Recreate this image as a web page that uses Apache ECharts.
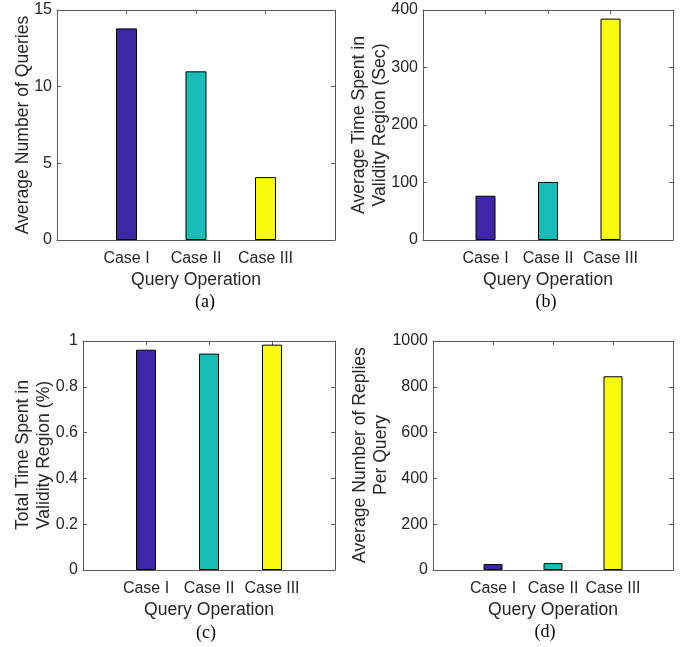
<!DOCTYPE html>
<html>
<head>
<meta charset="utf-8">
<script src="https://cdn.jsdelivr.net/npm/echarts@6/dist/echarts.min.js"></script>
<style>html,body{margin:0;padding:0;background:#fff}#c{width:684px;height:647px}</style>
</head>
<body>
<div id="c"></div>
<script>
const categories = ['Case I', 'Case II', 'Case III'];
const barColors = ['#3E26A8', '#17BEB7', '#F9FB0E'];

const avgQueries = [13.8, 11.0, 4.1];
const avgTimeValidity = [77, 101, 385];
const totalTimeValidity = [0.962, 0.945, 0.984];
const avgReplies = [26, 30, 846];

const yTitles = [
  'Average Number of Queries',
  'Average Time Spent in\nValidity Region (Sec)',
  'Total Time Spent in\nValidity Region (%)',
  'Average Number of Replies\nPer Query'
];
const xTitle = 'Query Operation';
const captions = ['(a)', '(b)', '(c)', '(d)'];
const yMin = [0, 0, 0, 0];
const yMax = [15, 400, 1, 1000];
const yStep = [5, 100, 0.2, 200];

const panels = [
  {data: avgQueries, grid: {left: 57, right: 349, top: 10, bottom: 407}, barW: 21, yName: [23, 125], cap: [205, 302]},
  {data: avgTimeValidity, grid: {left: 423, right: 11, top: 10, bottom: 407}, barW: 20, yName: [370, 125], cap: [546, 302]},
  {data: totalTimeValidity, grid: {left: 83, right: 349, top: 341, bottom: 77}, barW: 20, yName: [34, 455], cap: [206, 633]},
  {data: avgReplies, grid: {left: 433, right: 11, top: 341, bottom: 77}, barW: 19, yName: [371, 455], cap: [545, 632]}
];

const FONT = "'Liberation Sans', Arial, Helvetica, sans-serif";
const TXT = '#262626';
const LINE = '#5a5a5a';
const axisCats = [''].concat(categories, ['']);

const grid = [], xAxis = [], yAxis = [], series = [], graphic = [];
panels.forEach((p, i) => {
  grid.push(Object.assign({containLabel: false}, p.grid));
  const common = {
    type: 'category', gridIndex: i, data: axisCats, boundaryGap: false,
    axisLine: {onZero: false, lineStyle: {color: LINE, width: 1}},
    axisTick: {inside: true, length: 4, lineStyle: {color: LINE}},
    splitLine: {show: false}
  };
  xAxis.push(Object.assign({}, common, {
    position: 'bottom',
    axisLabel: {color: TXT, fontSize: 16, fontFamily: FONT, margin: 11, interval: 0},
    name: xTitle, nameLocation: 'middle', nameGap: 31,
    nameTextStyle: {color: TXT, fontSize: 17.6, fontFamily: FONT}
  }));
  xAxis.push(Object.assign({}, common, {position: 'top', axisLabel: {show: false}}));
  const yc = {
    type: 'value', gridIndex: i, min: yMin[i], max: yMax[i], interval: yStep[i],
    axisLine: {show: true, onZero: false, lineStyle: {color: LINE, width: 1}},
    axisTick: {show: true, inside: true, length: 4, lineStyle: {color: LINE}},
    splitLine: {show: false}
  };
  yAxis.push(Object.assign({}, yc, {
    position: 'left',
    axisLabel: {color: TXT, fontSize: 16, fontFamily: FONT, margin: 5, formatter: v => String(v)}
  }));
  yAxis.push(Object.assign({}, yc, {position: 'right', axisLabel: {show: false}}));
  series.push({
    type: 'bar', xAxisIndex: 2 * i, yAxisIndex: 2 * i, barWidth: p.barW,
    data: [null].concat(p.data.map((v, k) => ({value: v, itemStyle: {color: barColors[k]}})), [null]),
    itemStyle: {borderColor: '#000', borderWidth: 1},
    silent: true, animation: false
  });
  graphic.push({
    type: 'text', x: p.yName[0], y: p.yName[1], rotation: Math.PI / 2,
    style: {text: yTitles[i], font: "17.6px " + FONT, fill: TXT, textAlign: 'center', textVerticalAlign: 'middle', lineHeight: 21}
  });
  graphic.push({
    type: 'text', x: p.cap[0], y: p.cap[1],
    style: {text: captions[i], font: "18px 'Liberation Serif', 'Times New Roman', serif", fill: '#000', textAlign: 'center', textVerticalAlign: 'middle'}
  });
});

const chart = echarts.init(document.getElementById('c'), null, {renderer: 'canvas'});
chart.setOption({backgroundColor: '#fff', animation: false, grid, xAxis, yAxis, series, graphic});
</script>
</body>
</html>
